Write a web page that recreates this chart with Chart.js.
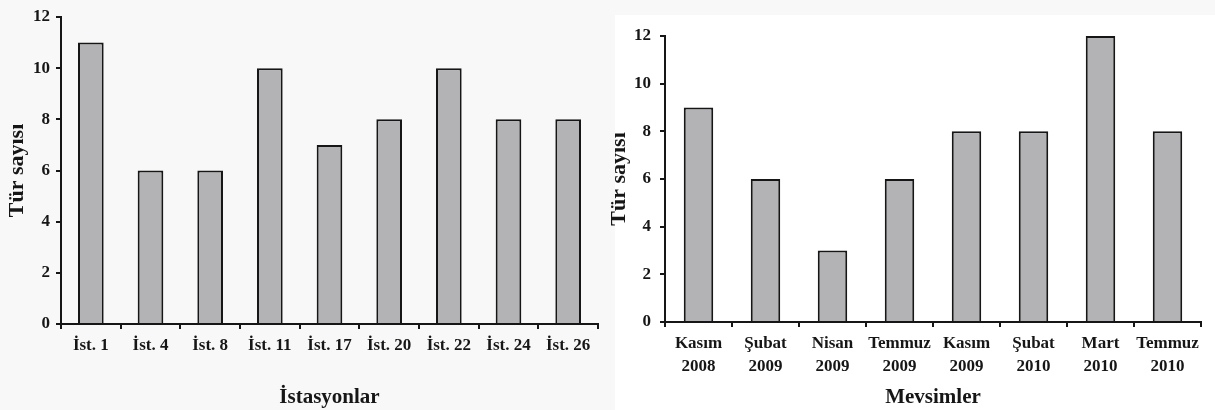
<!DOCTYPE html>
<html>
<head>
<meta charset="utf-8">
<script src="https://cdn.jsdelivr.net/npm/chart.js@4.4.1/dist/chart.umd.min.js"></script>
<style>
    html, body { margin: 0; padding: 0; background: #f8f8f8; }
    #wrap { position: relative; width: 1215px; height: 410px; overflow: hidden; }
    #leftBox { position: absolute; left: 0; top: 0; width: 610px; height: 410px; }
    #rightBg { position: absolute; left: 615px; top: 15px; width: 600px; height: 395px; background: #fff; }
    #rightBox { position: absolute; left: 600px; top: 0; width: 615px; height: 410px; }
</style>
</head>
<body>
<div id="wrap">
    <div id="leftBox"><canvas id="station-chart"></canvas></div>
    <div id="rightBg"></div>
    <div id="rightBox"><canvas id="season-chart"></canvas></div>
</div>
<script>
    // values
    const stations = ['İst. 1', 'İst. 4', 'İst. 8', 'İst. 11', 'İst. 17', 'İst. 20', 'İst. 22', 'İst. 24', 'İst. 26'];
    const stationCounts = [11, 6, 6, 10, 7, 8, 10, 8, 8];

    const seasons = [
        ['Kasım', '2008'], ['Şubat', '2009'], ['Nisan', '2009'], ['Temmuz', '2009'],
        ['Kasım', '2009'], ['Şubat', '2010'], ['Mart', '2010'], ['Temmuz', '2010']
    ];
    const seasonCounts = [9, 6, 3, 6, 8, 8, 12, 8];

    const yMax = 12;
    const yStep = 2;

    const ink = '#161616';
    const barFill = '#b3b3b6';
    const fontFamily = "'Liberation Serif', 'Times New Roman', serif";

    const renderChart = (canvasId, labels, data, xTitle, opts) => {
        const ctx = document.getElementById(canvasId).getContext('2d');

        new Chart(ctx, {
            type: 'bar',
            data: {
                labels: labels,
                datasets: [{
                    data: data,
                    backgroundColor: barFill,
                    borderColor: ink,
                    borderWidth: 2,
                    barPercentage: opts.barPct,
                    categoryPercentage: 1
                }]
            },
            options: {
                responsive: true,
                maintainAspectRatio: false,
                animation: false,
                layout: {
                    padding: { left: 0, top: opts.top, right: opts.right, bottom: 0 }
                },
                plugins: {
                    legend: { display: false },
                    tooltip: { enabled: false }
                },
                scales: {
                    x: {
                        grid: {
                            drawOnChartArea: false,
                            drawTicks: true,
                            tickLength: 5,
                            offset: true,
                            color: ink,
                            lineWidth: 2
                        },
                        border: { display: true, color: ink, width: 2 },
                        ticks: {
                            color: ink,
                            autoSkip: false,
                            maxRotation: 0,
                            padding: opts.xTickPad,
                            font: { family: fontFamily, size: 17, weight: 'bold', lineHeight: 1.3 }
                        },
                        title: {
                            display: true,
                            text: xTitle,
                            color: ink,
                            font: { family: fontFamily, size: 21, weight: 'bold' },
                            padding: { top: 0, bottom: 0 }
                        },
                        afterFit: (scale) => { scale.height = opts.xHeight; }
                    },
                    y: {
                        min: 0,
                        max: yMax,
                        grid: {
                            drawOnChartArea: false,
                            drawTicks: true,
                            tickLength: 5,
                            color: ink,
                            lineWidth: 2
                        },
                        border: { display: true, color: ink, width: 2 },
                        ticks: {
                            stepSize: yStep,
                            color: ink,
                            padding: opts.yTickPad,
                            font: { family: fontFamily, size: 17, weight: 'bold' }
                        },
                        title: {
                            display: true,
                            text: 'Tür sayısı',
                            color: ink,
                            font: { family: fontFamily, size: 22, weight: 'bold' },
                            padding: { top: opts.yTitlePad, bottom: 0 }
                        },
                        afterFit: (scale) => { scale.width = opts.yWidth; }
                    }
                }
            }
        });
    };

    renderChart('station-chart', stations, stationCounts, 'İstasyonlar', {
        top: 17, right: 12, xHeight: 86, yWidth: 61, barPct: 0.43,
        xTickPad: 6, yTickPad: 6, yTitlePad: 4
    });

    renderChart('season-chart', seasons, seasonCounts, 'Mevsimler', {
        top: 36, right: 14, xHeight: 88, yWidth: 65, barPct: 0.44,
        xTickPad: 6, yTickPad: 9, yTitlePad: 6
    });
</script>
</body>
</html>
